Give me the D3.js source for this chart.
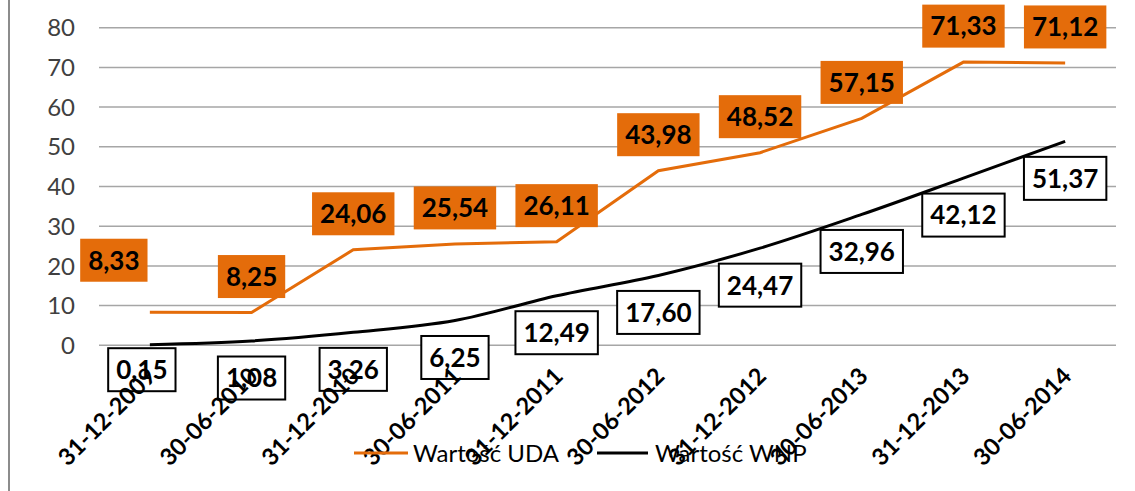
<!DOCTYPE html>
<html>
<head>
<meta charset="utf-8">
<script src="https://cdn.jsdelivr.net/npm/d3@7"></script>
<style>
  body { margin: 0; background: #fff; }
  svg { display: block; font-family: Lato, "Open Sans", sans-serif; }
</style>
</head>
<body>
<svg width="1135" height="491"></svg>
<script>
const dates = ["31-12-2009", "30-06-2010", "31-12-2010", "30-06-2011", "31-12-2011",
    "30-06-2012", "31-12-2012", "30-06-2013", "31-12-2013", "30-06-2014"];
const uda = [8.33, 8.25, 24.06, 25.54, 26.11, 43.98, 48.52, 57.15, 71.33, 71.12];
const wnp = [0.15, 1.08, 3.26, 6.25, 12.49, 17.60, 24.47, 32.96, 42.12, 51.37];
const yTicks = [0, 10, 20, 30, 40, 50, 60, 70, 80];
const seriesNames = ["Wartość UDA", "Wartość WNP"];

const orange = "#e46c0a";
const fmt = v => d3.format(".2f")(v).replace(".", ",");

// hand-moved labels (first point of each series)
const udaNudge = { 0: [-36, -16] };
const wnpNudge = { 0: [-8, -12] };

const svg = d3.select("svg"),
    plotLeft = 99, plotRight = 1116, plotTop = 27.7, plotBottom = 345.3;

// left frame edge
svg.append("line")
    .attr("x1", 9).attr("x2", 9).attr("y1", 0).attr("y2", 491)
    .attr("stroke", "#8c8c8c").attr("stroke-width", 2);

const x = d3.scalePoint().domain(dates).range([plotLeft, plotRight]).padding(0.5);
const y = d3.scaleLinear().domain([0, 80]).range([plotBottom, plotTop]);

// gridlines
svg.append("g")
    .selectAll("line")
    .data(yTicks)
    .enter().append("line")
    .attr("x1", plotLeft).attr("x2", plotRight)
    .attr("y1", d => y(d)).attr("y2", d => y(d))
    .attr("stroke", "#a6a6a6").attr("stroke-width", 1.5);

// y axis labels
svg.append("g")
    .selectAll("text")
    .data(yTicks)
    .enter().append("text")
    .attr("x", 75).attr("y", d => y(d))
    .attr("dy", "0.36em")
    .attr("text-anchor", "end")
    .style("font-size", "24px")
    .style("fill", "#404040")
    .text(d => d);

// lines
const udaLine = d3.line()
    .x((d, i) => x(dates[i]))
    .y(d => y(d));

const wnpLine = d3.line()
    .x((d, i) => x(dates[i]))
    .y(d => y(d))
    .curve(d3.curveCatmullRom.alpha(0.5));

svg.append("path")
    .datum(uda)
    .attr("d", udaLine)
    .attr("fill", "none")
    .attr("stroke", orange)
    .attr("stroke-width", 3);

svg.append("path")
    .datum(wnp)
    .attr("d", wnpLine)
    .attr("fill", "none")
    .attr("stroke", "#000")
    .attr("stroke-width", 3);

// data labels
function addLabels(values, offset, nudge, fill, stroke) {
    const g = svg.append("g");
    values.forEach((v, i) => {
        const n = nudge[i] || [0, 0];
        const cx = x(dates[i]) + n[0],
            cy = y(v) + offset + n[1];
        const lg = g.append("g").attr("transform", "translate(" + cx + "," + cy + ")");
        const rect = lg.append("rect");
        const t = lg.append("text")
            .attr("text-anchor", "middle")
            .attr("dy", "0.36em")
            .style("font-size", "26px")
            .style("font-weight", "bold")
            .style("fill", "#000")
            .text(fmt(v));
        const w = t.node().getComputedTextLength() + 16, h = 43;
        rect.attr("x", -w / 2).attr("y", -h / 2)
            .attr("width", w).attr("height", h)
            .attr("fill", fill)
            .attr("stroke", stroke)
            .attr("stroke-width", stroke === "none" ? 0 : 2);
    });
}

addLabels(uda, -36, udaNudge, orange, "none");
addLabels(wnp, 37, wnpNudge, "#fff", "#000");

// x axis labels (drawn over the data label boxes, like the original)
svg.append("g")
    .selectAll("text")
    .data(dates)
    .enter().append("text")
    .attr("transform", d => "translate(" + (x(d) - 4) + "," + 366 + ") rotate(-45)")
    .attr("text-anchor", "end")
    .attr("dy", "0.7em")
    .style("font-size", "23.5px")
    .style("font-weight", "bold")
    .style("fill", "#000")
    .text(d => d);

// legend
const legend = svg.append("g");
const legendItems = [
    { name: seriesNames[0], color: orange, x0: 354, x1: 408, tx: 413 },
    { name: seriesNames[1], color: "#000", x0: 597, x1: 648, tx: 655 }
];
legendItems.forEach(d => {
    legend.append("line")
        .attr("x1", d.x0).attr("x2", d.x1)
        .attr("y1", 453).attr("y2", 453)
        .attr("stroke", d.color).attr("stroke-width", 3);
    legend.append("text")
        .attr("x", d.tx).attr("y", 453)
        .attr("dy", "0.36em")
        .style("font-size", "24px")
        .style("fill", "#000")
        .text(d.name);
});
</script>
</body>
</html>
